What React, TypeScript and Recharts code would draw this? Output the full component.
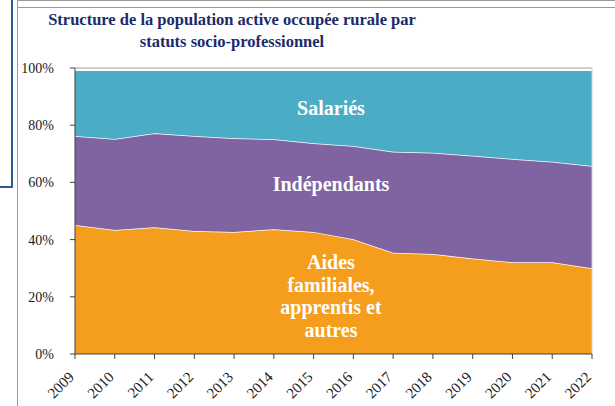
import React from "react";
import { AreaChart, Area, XAxis, YAxis, ReferenceLine } from "recharts";

const years = ["2009","2010","2011","2012","2013","2014","2015","2016","2017","2018","2019","2020","2021","2022"];
const aides = [45.1, 43.4, 44.3, 43.0, 42.7, 43.6, 42.7, 40.1, 35.4, 35.0, 33.4, 32.1, 32.1, 30.0];
const independants = [31.1, 31.8, 32.9, 33.2, 32.7, 31.5, 31.0, 32.6, 35.3, 35.4, 35.9, 36.1, 35.1, 35.7];
const salaries = [23.0, 24.0, 22.0, 23.0, 23.8, 24.1, 25.5, 26.5, 28.5, 28.8, 29.9, 31.0, 32.0, 33.5];
const yTicks = [0, 20, 40, 60, 80, 100];

const data = years.map((y, i) => ({
  year: y,
  aides: aides[i],
  independants: independants[i],
  salaries: salaries[i],
}));

const FONT = "'Liberation Serif', 'Times New Roman', serif";

const XTick = (props: any) => {
  const { x, y, payload } = props;
  return (
    <g transform={`translate(${x},${y})`}>
      <text
        x={-12}
        y={12}
        textAnchor="end"
        transform="rotate(-45)"
        fontFamily={FONT}
        fontSize={15}
        fill="#1a1a1a"
      >
        {payload.value}
      </text>
    </g>
  );
};

export default function App() {
  const labelStyle: React.CSSProperties = {
    position: "absolute",
    color: "#ffffff",
    fontFamily: FONT,
    fontWeight: "bold",
    fontSize: 20,
    textAlign: "center",
    lineHeight: "22.7px",
    whiteSpace: "nowrap",
  };
  return (
    <div
      style={{
        position: "fixed",
        left: 0,
        top: 0,
        width: 615,
        height: 406,
        background: "#ffffff",
        overflow: "hidden",
      }}
    >
      {/* decorative frame lines */}
      <div style={{ position: "absolute", left: 11, top: 0, width: 2, height: 188, background: "#2F5A94" }} />
      <div style={{ position: "absolute", left: 0, top: 186, width: 13, height: 2, background: "#2F5A94" }} />
      <div style={{ position: "absolute", left: 17, top: 0, width: 1, height: 406, background: "#9a9a9a" }} />
      <div style={{ position: "absolute", left: 18, top: 0, width: 597, height: 1, background: "#9a9a9a" }} />
      <div style={{ position: "absolute", left: 18, top: 7, width: 597, height: 1, background: "#9a9a9a" }} />

      <div
        style={{
          position: "absolute",
          left: 32,
          width: 400,
          top: 9,
          textAlign: "center",
          fontFamily: FONT,
          fontWeight: "bold",
          fontSize: 16.5,
          lineHeight: "22px",
          color: "#1B2A6B",
        }}
      >
        Structure de la population active occupée rurale par
        <br />
        statuts socio-professionnel
      </div>

      <div style={{ position: "absolute", left: 0, top: 0 }}>
        <AreaChart
          width={615}
          height={406}
          data={data}
          margin={{ top: 68, right: 23, bottom: 0, left: 15 }}
        >
          <XAxis
            dataKey="year"
            height={52}
            tick={<XTick />}
            tickSize={5}
            stroke="#404040"
            interval={0}
          />
          <YAxis
            width={60}
            domain={[0, 100]}
            ticks={yTicks}
            tickFormatter={(v: number) => `${v}%`}
            tickSize={5}
            tickMargin={16}
            stroke="#404040"
            tick={{ fontFamily: FONT, fontSize: 14, fill: "#1a1a1a" }}
          />
          <Area
            type="linear"
            dataKey="aides"
            stackId="1"
            fill="#F59E1E"
            fillOpacity={1}
            stroke="#ffffff"
            strokeWidth={1.5}
            isAnimationActive={false}
          />
          <Area
            type="linear"
            dataKey="independants"
            stackId="1"
            fill="#8064A2"
            fillOpacity={1}
            stroke="#ffffff"
            strokeWidth={1.5}
            isAnimationActive={false}
          />
          <Area
            type="linear"
            dataKey="salaries"
            stackId="1"
            fill="#4BACC6"
            fillOpacity={1}
            stroke="#ffffff"
            strokeWidth={1.5}
            isAnimationActive={false}
          />
          <ReferenceLine y={100} stroke="#a0a0a0" strokeWidth={1} />
          <ReferenceLine x="2022" stroke="#d0d0d0" strokeWidth={1} />
        </AreaChart>
      </div>

      <div style={{ ...labelStyle, left: 231, width: 200, top: 97 }}>Salariés</div>
      <div style={{ ...labelStyle, left: 231, width: 200, top: 173 }}>Indépendants</div>
      <div style={{ ...labelStyle, left: 231, width: 200, top: 251 }}>
        Aides
        <br />
        familiales,
        <br />
        apprentis et
        <br />
        autres
      </div>
    </div>
  );
}
